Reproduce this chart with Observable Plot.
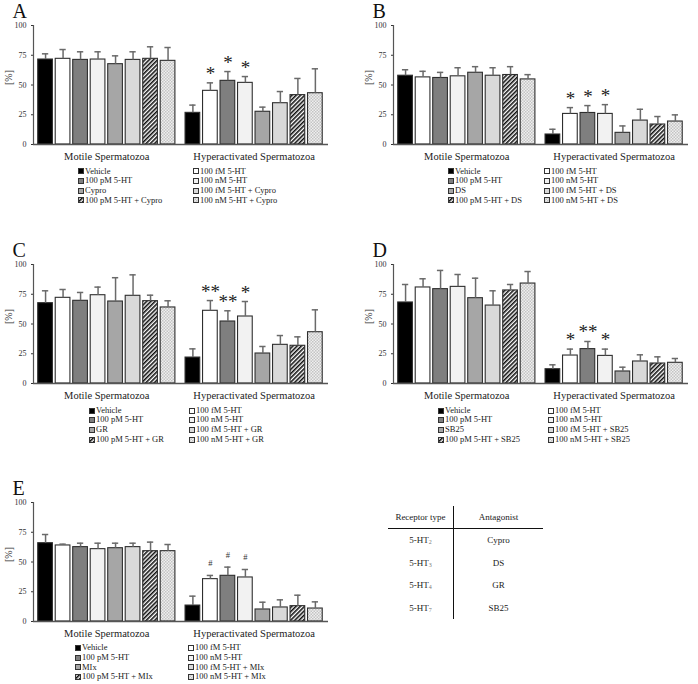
<!DOCTYPE html>
<html>
<head>
<meta charset="utf-8">
<script src="https://cdn.jsdelivr.net/npm/d3@7"></script>
<script src="https://cdn.jsdelivr.net/npm/@observablehq/plot@0.6"></script>
<style>
  body { margin: 0; background: #fff; }
  #fig { position: relative; width: 698px; height: 684px; overflow: hidden; background: #fff;
         font-family: "Liberation Serif", "Times New Roman", serif; color: #1a1a1a; }
  .panel { position: absolute; }
  .legend { position: absolute; font-size: 8.5px; line-height: 9.7px; white-space: nowrap; }
  .legend .item { position: absolute; display: flex; align-items: center; height: 9.7px; }
  .legend svg { display: block; margin-right: 1px; }
  .tbl { position: absolute; left: 388px; top: 506px; border-collapse: collapse; font-size: 9px; }
  .tbl td, .tbl th { padding: 0; text-align: center; font-weight: normal; height: 22.6px; }
  .tbl th { height: 22px; border-bottom: 1.5px solid #111; }
  .tbl .c1 { width: 65px; border-right: 1.5px solid #111; }
  .tbl .c2 { width: 89px; }
  .tbl sub { font-size: 6px; color: #777; vertical-align: -1px; }
</style>
</head>
<body>
<svg width="0" height="0" style="position:absolute">
  <defs>
    <pattern id="hatch" width="3" height="3" patternUnits="userSpaceOnUse" patternTransform="rotate(45)">
      <rect width="3" height="3" fill="#fff"></rect>
      <line x1="0.8" y1="0" x2="0.8" y2="3" stroke="#111" stroke-width="1.6"></line>
    </pattern>
    <pattern id="dots" width="3" height="3" patternUnits="userSpaceOnUse">
      <rect width="3" height="3" fill="#efefef"></rect>
      <rect width="1.5" height="1.5" fill="#c4c4c4"></rect>
      <rect x="1.5" y="1.5" width="1.5" height="1.5" fill="#c4c4c4"></rect>
    </pattern>
  </defs>
</svg>
<div id="fig"></div>
<script>
// ---------------- data ----------------
const groups = ["Motile Spermatozoa", "Hyperactivated Spermatozoa"];
const treatmentKeys = ["Vehicle", "100 fM 5-HT", "100 pM 5-HT", "100 nM 5-HT",
                       "X", "100 fM 5-HT + X", "100 pM 5-HT + X", "100 nM 5-HT + X"];
const yTicks = [0, 25, 50, 75, 100];

// Panel A (Cypro)
const meanA_motile = [71.4, 72.0, 71.1, 71.4, 67.5, 71.1, 72.0, 70.3];
const sdA_motile   = [4.8, 7.8, 6.8, 6.5, 7.0, 6.8, 10.1, 11.2];
const meanA_hyper  = [26.6, 45.1, 53.5, 51.8, 27.5, 34.7, 41.5, 43.1];
const sdA_hyper    = [6.5, 6.7, 7.8, 5.3, 3.9, 9.8, 14.0, 20.5];
const sigA         = ["", "*", "*", "*", "", "", "", ""];

// Panel B (DS)
const meanB_motile = [57.8, 56.4, 55.9, 57.3, 60.3, 57.8, 58.4, 54.7];
const sdB_motile   = [5.0, 5.1, 4.7, 7.2, 5.1, 6.7, 7.0, 4.0];
const meanB_hyper  = [8.4, 25.7, 26.5, 25.7, 9.8, 20.1, 16.8, 19.3];
const sdB_hyper    = [4.4, 5.3, 6.2, 7.8, 5.8, 9.5, 6.7, 5.6];
const sigB         = ["", "*", "*", "*", "", "", "", ""];

// Panel C (GR)
const meanC_motile = [67.5, 72.0, 69.5, 74.2, 68.9, 73.7, 69.2, 63.9];
const sdC_motile   = [10.4, 7.0, 7.0, 6.8, 20.0, 17.6, 5.0, 5.6];
const meanC_hyper  = [21.8, 61.1, 52.1, 56.3, 25.2, 32.5, 31.7, 43.1];
const sdC_hyper    = [7.3, 8.6, 9.0, 12.6, 5.9, 7.8, 7.5, 18.8];
const sigC         = ["", "**", "**", "*", "", "", "", ""];

// Panel D (SB25)
const meanD_motile = [68.1, 80.7, 79.3, 81.2, 71.7, 65.5, 78.2, 84.0];
const sdD_motile   = [15.1, 7.3, 15.7, 10.4, 16.8, 12.4, 5.0, 10.1];
const meanD_hyper  = [12.0, 23.5, 28.9, 23.2, 10.1, 18.5, 16.8, 17.4];
const sdD_hyper    = [3.7, 5.4, 6.4, 5.7, 3.6, 5.6, 5.6, 3.6];
const sigD         = ["", "*", "**", "*", "", "", "", ""];

// Panel E (Mix)
const meanE_motile = [65.8, 63.9, 62.5, 60.8, 61.6, 62.5, 59.1, 59.1];
const sdE_motile   = [7.3, 1.1, 3.3, 5.0, 4.2, 3.3, 7.6, 5.6];
const meanE_hyper  = [13.4, 35.6, 38.4, 37.0, 10.1, 11.8, 12.9, 10.9];
const sdE_hyper    = [7.9, 3.1, 7.3, 6.7, 6.1, 6.4, 9.2, 5.6];
const sigE         = ["", "#", "#", "#", "", "", "", ""];

const letters = ["A", "B", "C", "D", "E"];
const antagonistNames = ["Cypro", "DS", "GR", "SB25", "Mix"];
const legendAntagonistNames = ["Cypro", "DS", "GR", "SB25", "MIx"];

// table
const tableHeader = ["Receptor type", "Antagonist"];
const receptorSubs = ["2", "3", "4", "7"];
const tableAntagonists = ["Cypro", "DS", "GR", "SB25"];

// ---------------- styles / layout ----------------
const fills = ["#000000", "#ffffff", "#7f7f7f", "#f2f2f2", "#a6a6a6", "#d9d9d9", "url(#hatch)", "url(#dots)"];
const GROUP_OFFSET = 8.42;
const XDOM = [-0.19, 16.67];

const panels = [
  {means: [meanA_motile, meanA_hyper], sds: [sdA_motile, sdA_hyper], sig: sigA, left: 0,     top: 0,     leg: [45, 160]},
  {means: [meanB_motile, meanB_hyper], sds: [sdB_motile, sdB_hyper], sig: sigB, left: 359.5, top: 0,     leg: [55.5, 151.5]},
  {means: [meanC_motile, meanC_hyper], sds: [sdC_motile, sdC_hyper], sig: sigC, left: 0,     top: 239.3, leg: [56, 156]},
  {means: [meanD_motile, meanD_hyper], sds: [sdD_motile, sdD_hyper], sig: sigD, left: 359.5, top: 239.3, leg: [45.5, 155.5]},
  {means: [meanE_motile, meanE_hyper], sds: [sdE_motile, sdE_hyper], sig: sigE, left: 0,     top: 476.7, leg: [42, 155]}
];

const fig = document.getElementById("fig");
const ML = 33, MT = 25, PH = 119;

panels.forEach((p, k) => {
  const rows = [];
  groups.forEach((g, gi) => {
    treatmentKeys.forEach((key, i) => {
      const mean = p.means[gi][i], sd = p.sds[gi][i];
      rows.push({gi, i, key, mean, sd, top: mean + sd, sig: gi === 1 ? p.sig[i] : ""});
    });
  });
  const slot = d => d.gi * GROUP_OFFSET + d.i;
  const stars = rows.filter(d => d.sig && d.sig.includes("*"));
  const hashes = rows.filter(d => d.sig && d.sig.includes("#"));

  const chart = Plot.plot({
    width: 338, height: MT + PH + 20,
    marginLeft: ML, marginRight: 10, marginTop: MT, marginBottom: 20,
    style: {fontFamily: "'Liberation Serif', 'Times New Roman', serif", fontSize: "8px", background: "transparent", color: "#333"},
    x: {domain: XDOM, axis: null},
    y: {domain: [0, 100], ticks: yTicks, tickSize: 2, tickPadding: 5, label: null},
    color: {domain: treatmentKeys, range: fills},
    marks: [
      Plot.rectY(rows, {x1: d => slot(d) + 0.08, x2: d => slot(d) + 0.92, y1: 0, y2: "mean", fill: "key", stroke: "#2e2e2e", strokeWidth: 1.1}),
      Plot.ruleX(rows, {x: d => slot(d) + 0.5, y1: "mean", y2: "top", stroke: "#6a6a6a", strokeWidth: 1.5}),
      Plot.ruleY(rows, {y: "top", x1: d => slot(d) + 0.32, x2: d => slot(d) + 0.68, stroke: "#6a6a6a", strokeWidth: 1.5}),
      Plot.ruleY([0], {stroke: "#555", strokeWidth: 1.5}),
      Plot.ruleX([XDOM[0]], {stroke: "#555", strokeWidth: 1.2}),
      Plot.text(stars, {x: d => slot(d) + 0.5, y: "top", text: "sig", dy: -3, lineAnchor: "bottom", fontSize: 19, fill: "#222"}),
      Plot.text(hashes, {x: d => slot(d) + 0.5, y: "top", text: "sig", dy: -9, lineAnchor: "bottom", fontSize: 8.5, fill: "#333"}),
      Plot.text(groups, {x: (d, i) => i * GROUP_OFFSET + 4, y: 0, dy: 15, lineAnchor: "bottom", fontSize: 10.5, fill: "#222"}),
      Plot.text([letters[k]], {frameAnchor: "top-left", dx: -21, dy: -8, lineAnchor: "bottom", textAnchor: "start", fontSize: 20, fill: "#111"}),
      Plot.text(["[%]"], {frameAnchor: "left", rotate: -90, dx: -25, fontSize: 10, fill: "#333"})
    ]
  });
  const wrap = document.createElement("div");
  wrap.className = "panel";
  wrap.style.left = p.left + "px";
  wrap.style.top = p.top + "px";
  wrap.appendChild(chart);
  fig.appendChild(wrap);

  // legend
  const leg = document.createElement("div");
  leg.className = "legend";
  leg.style.left = (p.left + ML) + "px";
  leg.style.top = (p.top + MT + PH + 22.5) + "px";
  treatmentKeys.forEach((key, i) => {
    const label = key.replace("X", legendAntagonistNames[k]);
    const item = document.createElement("div");
    item.className = "item";
    item.style.left = p.leg[i % 2] + "px";
    item.style.top = (Math.floor(i / 2) * 9.7) + "px";
    item.innerHTML = `<svg width="6" height="6"><rect x="0.5" y="0.5" width="5" height="5" fill="${fills[i]}" stroke="#333" stroke-width="1"></rect></svg><span>${label}</span>`;
    leg.appendChild(item);
  });
  fig.appendChild(leg);
});

// table
const tbl = document.createElement("table");
tbl.className = "tbl";
let html = `<tr><th class="c1">${tableHeader[0]}</th><th class="c2">${tableHeader[1]}</th></tr>`;
receptorSubs.forEach((s, i) => {
  html += `<tr><td class="c1">5-HT<sub>${s}</sub></td><td class="c2">${tableAntagonists[i]}</td></tr>`;
});
tbl.innerHTML = html;
fig.appendChild(tbl);
</script>
</body>
</html>
